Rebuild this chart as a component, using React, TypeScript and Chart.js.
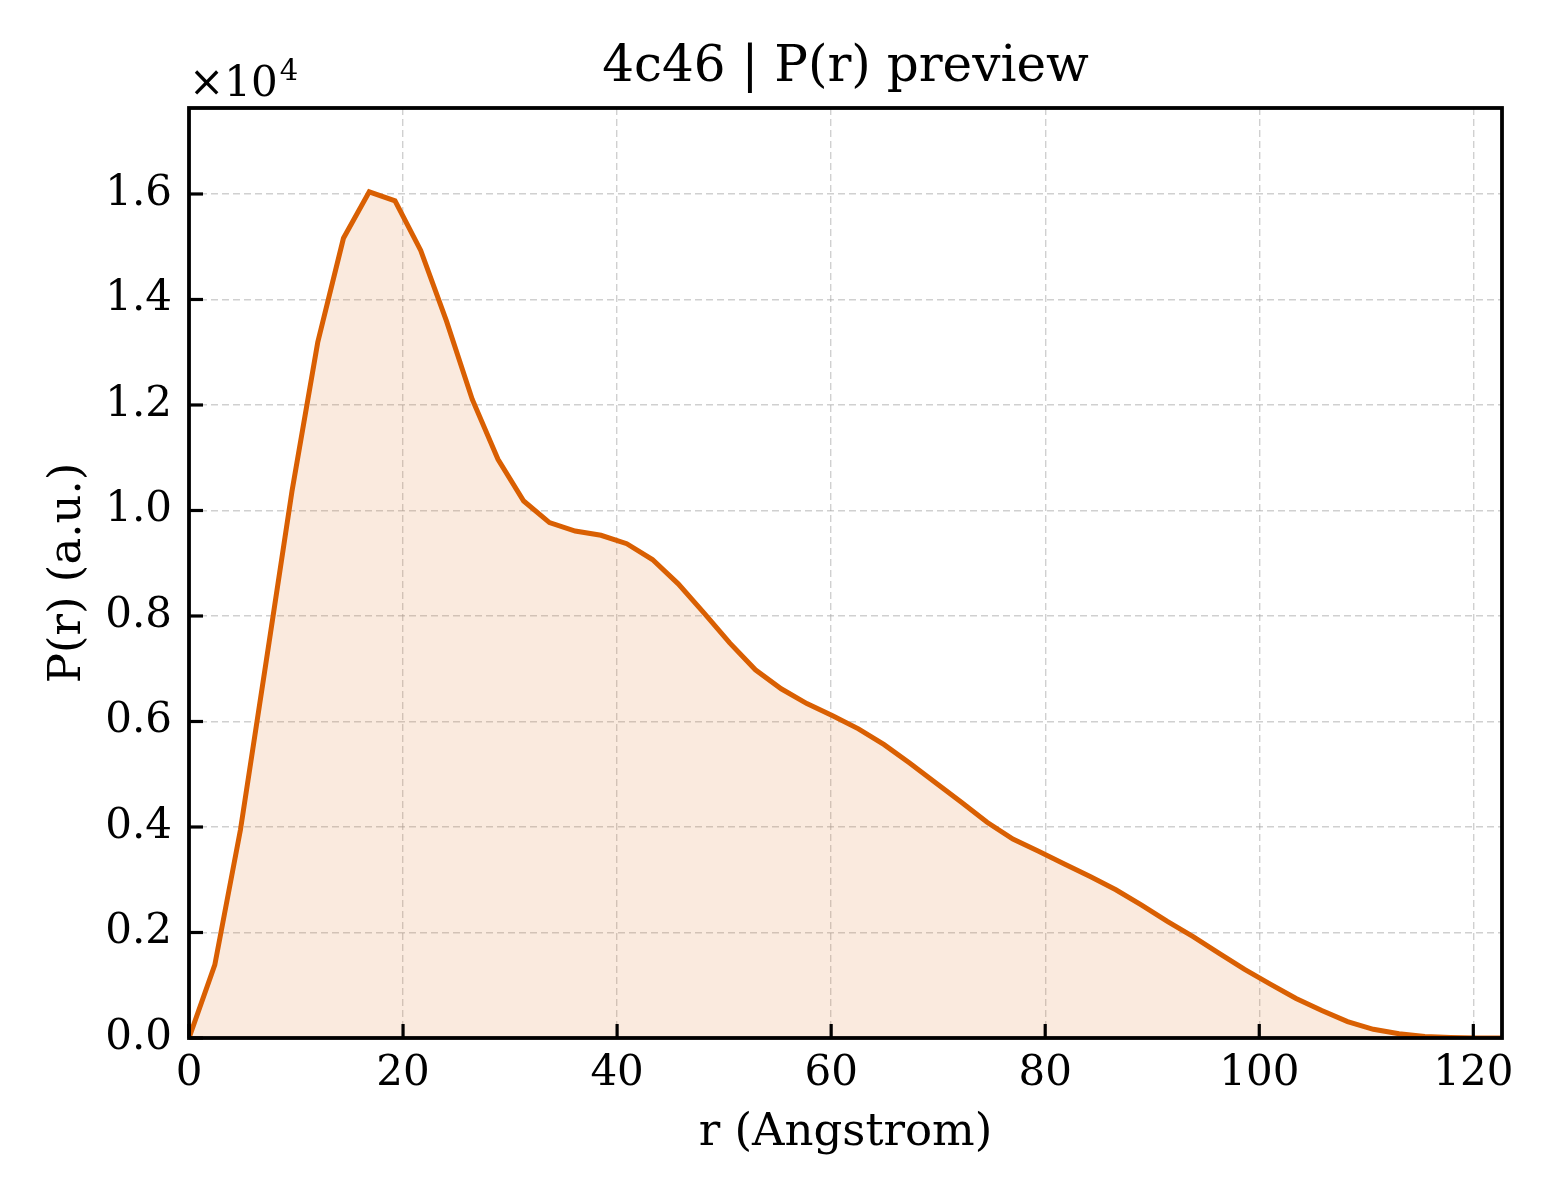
import React, { useEffect, useRef } from 'react';
import { Chart, registerables } from 'chart.js';

Chart.register(...registerables);

// ---- data ----
const titleText = '4c46 | P(r) preview';
const xLabel = 'r (Angstrom)';
const yLabel = 'P(r) (a.u.)';

const rValues = [
  0, 2.41, 4.81, 7.22, 9.62, 12.03, 14.43, 16.84, 19.25, 21.65, 24.06, 26.46, 28.87,
  31.27, 33.68, 36.08, 38.49, 40.9, 43.3, 45.71, 48.11, 50.52, 52.92, 55.33, 57.73,
  60.14, 62.55, 64.95, 67.36, 69.76, 72.17, 74.57, 76.98, 79.38, 81.79, 84.2, 86.6,
  89.01, 91.41, 93.82, 96.22, 98.63, 101.03, 103.44, 105.84, 108.25, 110.66, 113.06,
  115.47, 117.87, 120.28, 122.68,
];

const prValues = [
  0, 1385, 3950, 7150, 10360, 13190, 15160, 16040, 15870, 14930, 13590, 12110, 10970,
  10180, 9770, 9610, 9530, 9370, 9070, 8610, 8060, 7490, 6980, 6620, 6340,
  6110, 5860, 5560, 5210, 4840, 4470, 4090, 3770, 3540, 3300, 3060, 2810,
  2520, 2210, 1920, 1610, 1300, 1020, 750, 520, 310, 165, 80, 30, 10, 0, 0,
];

const xTickValues = [0, 20, 40, 60, 80, 100, 120];
const yTickValues = [0, 2000, 4000, 6000, 8000, 10000, 12000, 14000, 16000];

const xMin = 0;
const xMax = 122.68;
const yMin = 0;
const yMax = 17630;
const yScaleFactor = 10000;
const offsetBase = '×10';
const offsetExp = '4';

const FONT = "'DejaVu Serif', 'Liberation Serif', serif";
const LINE_COLOR = '#d95f02';
const FILL_COLOR = 'rgba(217, 95, 2, 0.13)';

const framePlugin = {
  id: 'framePlugin',
  afterDraw(chart: any) {
    const { ctx, chartArea: a, scales } = chart;
    const xs = scales.x;
    const ys = scales.y;
    ctx.save();
    ctx.setLineDash([]);
    ctx.globalAlpha = 1;
    ctx.strokeStyle = '#000';
    ctx.lineWidth = 3.2;
    ctx.lineCap = 'butt';
    const tl = 14;
    xs.ticks.forEach((t: any) => {
      const px = xs.getPixelForValue(t.value);
      ctx.beginPath();
      ctx.moveTo(px, a.bottom);
      ctx.lineTo(px, a.bottom - tl);
      ctx.stroke();
    });
    ys.ticks.forEach((t: any) => {
      const py = ys.getPixelForValue(t.value);
      ctx.beginPath();
      ctx.moveTo(a.left, py);
      ctx.lineTo(a.left + tl, py);
      ctx.stroke();
    });
    ctx.lineWidth = 3.8;
    ctx.strokeRect(a.left, a.top, a.right - a.left, a.bottom - a.top);

    // offset text
    ctx.fillStyle = '#000';
    ctx.textAlign = 'left';
    ctx.textBaseline = 'alphabetic';
    ctx.font = `42px ${FONT}`;
    ctx.fillText(offsetBase, a.left, 96);
    const w = ctx.measureText(offsetBase).width;
    ctx.font = `29px ${FONT}`;
    ctx.fillText(offsetExp, a.left + w + 2, 80);
    ctx.restore();
  },
};

export default function App() {
  const canvasRef = useRef<HTMLCanvasElement | null>(null);

  useEffect(() => {
    const canvas = canvasRef.current;
    if (!canvas) return;
    const data = rValues.map((r, i) => ({ x: r, y: prValues[i] }));
    const chart = new Chart(canvas, {
      type: 'line',
      data: {
        datasets: [
          {
            data,
            borderColor: LINE_COLOR,
            backgroundColor: FILL_COLOR,
            borderWidth: 5,
            pointRadius: 0,
            tension: 0,
            fill: 'origin',
          },
        ],
      },
      options: {
        responsive: false,
        animation: false,
        devicePixelRatio: 1,
        layout: { padding: { left: 0, right: 58, top: 0, bottom: 0 } },
        plugins: {
          legend: { display: false },
          tooltip: { enabled: false },
          title: {
            display: true,
            text: titleText,
            color: '#000',
            fullSize: false,
            font: { family: FONT, size: 50, weight: 'normal', lineHeight: 1.2 },
            padding: { top: 38, bottom: 10 },
          },
        },
        scales: {
          x: {
            type: 'linear',
            bounds: 'data',
            min: xMin,
            max: xMax,
            afterFit: (s: any) => {
              s.height = 162;
            },
            afterBuildTicks: (s: any) => {
              s.ticks = xTickValues.map((v) => ({ value: v }));
            },
            ticks: {
              color: '#000',
              padding: 11,
              maxRotation: 0,
              autoSkip: false,
              font: { family: FONT, size: 42 },
              callback: (v: any) => String(v),
            },
            grid: {
              color: 'rgba(170,170,170,0.55)',
              lineWidth: 1.4,
              drawTicks: false,
            },
            border: { display: false, dash: [7, 4] },
            title: {
              display: true,
              text: xLabel,
              color: '#000',
              font: { family: FONT, size: 45, lineHeight: 1.2 },
              padding: { top: 0, bottom: 40 },
            },
          },
          y: {
            type: 'linear',
            bounds: 'data',
            min: yMin,
            max: yMax,
            afterFit: (s: any) => {
              s.width = 189;
            },
            afterBuildTicks: (s: any) => {
              s.ticks = yTickValues.map((v) => ({ value: v }));
            },
            ticks: {
              color: '#000',
              padding: 17,
              autoSkip: false,
              font: { family: FONT, size: 42 },
              callback: (v: any) => (Number(v) / yScaleFactor).toFixed(1),
            },
            grid: {
              color: 'rgba(170,170,170,0.55)',
              lineWidth: 1.4,
              drawTicks: false,
            },
            border: { display: false, dash: [7, 4] },
            title: {
              display: true,
              text: yLabel,
              color: '#000',
              font: { family: FONT, size: 45, lineHeight: 1.2 },
              padding: { top: 41, bottom: 0 },
            },
          },
        },
      },
      plugins: [framePlugin],
    });
    return () => chart.destroy();
  }, []);

  return (
    <div
      style={{
        position: 'fixed',
        left: 0,
        top: 0,
        width: 1560,
        height: 1200,
        background: '#fff',
      }}
    >
      <canvas ref={canvasRef} width={1560} height={1200} style={{ width: 1560, height: 1200, display: 'block' }} />
    </div>
  );
}
